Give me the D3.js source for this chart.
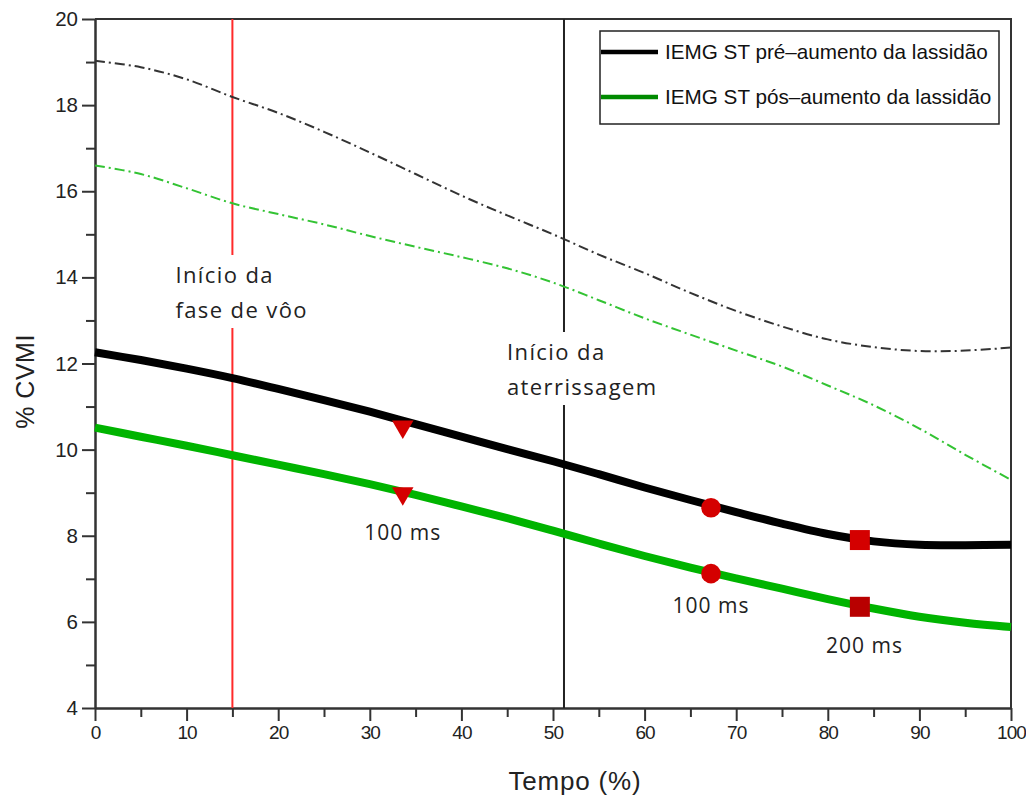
<!DOCTYPE html>
<html>
<head>
<meta charset="utf-8">
<script src="https://cdn.jsdelivr.net/npm/d3@7.9.0/dist/d3.min.js"></script>
<style>
  body { margin: 0; background: #fff; }
  svg { display: block; }
</style>
</head>
<body>
<script>
// ** Data **
const tempo = [0, 5, 10, 15, 20, 25, 30, 35, 40, 45, 50, 55, 60, 65, 70, 75, 80, 85, 90, 95, 100];
const preMean = [12.26, 12.08, 11.88, 11.66, 11.41, 11.15, 10.88, 10.59, 10.30, 10.01, 9.73, 9.43, 9.12, 8.83, 8.55, 8.28, 8.04, 7.87, 7.79, 7.78, 7.79];
const posMean = [10.51, 10.30, 10.09, 9.87, 9.65, 9.43, 9.20, 8.95, 8.68, 8.41, 8.12, 7.82, 7.53, 7.26, 7.01, 6.77, 6.53, 6.31, 6.12, 5.98, 5.88];
const preUpper = [19.03, 18.88, 18.60, 18.19, 17.82, 17.38, 16.90, 16.40, 15.90, 15.44, 15.00, 14.53, 14.10, 13.64, 13.22, 12.86, 12.56, 12.38, 12.29, 12.30, 12.37];
const posUpper = [16.60, 16.40, 16.07, 15.72, 15.47, 15.23, 14.96, 14.71, 14.47, 14.21, 13.88, 13.47, 13.05, 12.67, 12.30, 11.93, 11.49, 11.03, 10.49, 9.88, 9.30];

// markers (triangle, circle, square)
const markerX = [33.6, 67.25, 83.5];
const markerPre = [10.58, 8.65, 7.90];
const markerPos = [9.03, 7.12, 6.35];
const markerShape = ["triangle", "circle", "square"];

const xTicks = [0, 10, 20, 30, 40, 50, 60, 70, 80, 90, 100];
const xMinor = [5, 15, 25, 35, 45, 55, 65, 75, 85, 95];
const yTicks = [4, 6, 8, 10, 12, 14, 16, 18, 20];
const yMinor = [5, 7, 9, 11, 13, 15, 17, 19];

const phaseLines = [
    { x: 15, color: "#ff2a2a", lines: ["Início da", "fase de vôo"] },
    { x: 51.2, color: "#222", lines: ["Início da", "aterrissagem"] }
];
const msLabels = [
    { x: 33.6, y: 7.9, text: "100 ms" },
    { x: 67.25, y: 6.2, text: "100 ms" },
    { x: 84, y: 5.28, text: "200 ms" }
];
const legendItems = [
    { label: "IEMG ST pré–aumento da lassidão", color: "#000" },
    { label: "IEMG ST pós–aumento da lassidão", color: "#008a00" }
];

// ** SVG Setup **
const width = 1026, height = 798;
const margin = { top: 19, right: 15, bottom: 90, left: 95 };
const svg = d3.select("body").append("svg")
    .attr("width", width)
    .attr("height", height);

const x = d3.scaleLinear().domain([0, 100]).range([margin.left, width - margin.right]);
const y = d3.scaleLinear().domain([4, 20]).range([height - margin.bottom, margin.top]);

const tickFont = "'Liberation Sans', Arial, sans-serif";
const noteFont = "'Open Sans', 'Noto Sans', sans-serif";

// ** Axes **
function styleAxis(size, spacing) {
    return g => {
        g.selectAll("path, line").attr("stroke", "#333").attr("stroke-width", 2);
        g.selectAll("text")
            .style("font-family", tickFont)
            .style("font-size", size)
            .style("letter-spacing", spacing)
            .attr("fill", "#222");
    };
}

svg.append("g")
    .attr("transform", `translate(0,${y(4)})`)
    .call(d3.axisBottom(x).tickValues(xMinor).tickSize(9).tickFormat("").tickSizeOuter(0))
    .call(styleAxis("19px", "0px"));
svg.append("g")
    .attr("transform", `translate(0,${y(4)})`)
    .call(d3.axisBottom(x).tickValues(xTicks).tickSize(13).tickPadding(5).tickSizeOuter(0))
    .call(styleAxis("19px", "-0.9px"));

svg.append("g")
    .attr("transform", `translate(${x(0)},0)`)
    .call(d3.axisLeft(y).tickValues(yMinor).tickSize(9).tickFormat("").tickSizeOuter(0))
    .call(styleAxis("20px", "0px"));
svg.append("g")
    .attr("transform", `translate(${x(0)},0)`)
    .call(d3.axisLeft(y).tickValues(yTicks).tickSize(13).tickPadding(4).tickSizeOuter(0))
    .call(styleAxis("20.5px", "0px"));

// frame top + right
svg.append("path")
    .attr("d", `M${x(0)},${y(20)}H${x(100)}V${y(4)}`)
    .attr("fill", "none")
    .attr("stroke", "#333")
    .attr("stroke-width", 2);

// ** Phase lines **
phaseLines.forEach(p => {
    svg.append("line")
        .attr("x1", x(p.x)).attr("x2", x(p.x))
        .attr("y1", y(20)).attr("y2", y(4))
        .attr("stroke", p.color)
        .attr("stroke-width", 2);
});

// ** Curves **
const line = d3.line()
    .x((d, i) => x(tempo[i]))
    .y(d => y(d))
    .curve(d3.curveCatmullRom.alpha(0.5));

svg.append("path").datum(preUpper)
    .attr("d", line).attr("fill", "none")
    .attr("stroke", "#333").attr("stroke-width", 2)
    .attr("stroke-dasharray", "10,4,2,4");
svg.append("path").datum(posUpper)
    .attr("d", line).attr("fill", "none")
    .attr("stroke", "#33c333").attr("stroke-width", 2)
    .attr("stroke-dasharray", "10,4,2,4");
svg.append("path").datum(preMean)
    .attr("d", line).attr("fill", "none")
    .attr("stroke", "#000").attr("stroke-width", 8);
svg.append("path").datum(posMean)
    .attr("d", line).attr("fill", "none")
    .attr("stroke", "#00b400").attr("stroke-width", 8);

// ** Phase labels (white box hides line behind) **
phaseLines.forEach((p, k) => {
    const lx = x(p.x) - 57;
    const ly = k === 0 ? 283 : 360;
    const g = svg.append("g");
    const t = g.append("text")
        .attr("x", lx).attr("y", ly)
        .style("font-family", noteFont)
        .style("font-size", "22px")
        .style("letter-spacing", "1.4px")
        .attr("fill", "#222");
    t.selectAll("tspan").data(p.lines).enter().append("tspan")
        .attr("x", lx)
        .attr("dy", (d, i) => i === 0 ? 0 : 35)
        .text(d => d);
    const bb = t.node().getBBox();
    g.insert("rect", "text")
        .attr("x", bb.x - 2).attr("y", bb.y - 4)
        .attr("width", bb.width + 4).attr("height", bb.height + 8)
        .attr("fill", "#fff");
});

// ** Markers **
const symbolFor = s => s === "triangle" ? d3.symbolTriangle : s === "circle" ? d3.symbolCircle : d3.symbolSquare;
const sizeFor = s => s === "triangle" ? 200 : s === "circle" ? 300 : 400;
[markerPre, markerPos].forEach((ys, j) => {
    svg.selectAll(null)
        .data(markerX)
        .enter()
        .append("path")
        .attr("d", (d, i) => d3.symbol().type(symbolFor(markerShape[i])).size(sizeFor(markerShape[i]))())
        .attr("transform", (d, i) => {
            const rot = markerShape[i] === "triangle" ? " rotate(180)" : "";
            const dy = markerShape[i] === "triangle" ? 2 : 0;
            return `translate(${x(d)},${y(ys[i]) + dy})${rot}`;
        })
        .attr("fill", (d, i) => (j === 1 && markerShape[i] === "square") ? "#b80000" : "#d40000");
});

// ** ms labels **
svg.selectAll(".ms")
    .data(msLabels)
    .enter()
    .append("text")
    .attr("class", "ms")
    .attr("x", d => x(d.x))
    .attr("y", d => y(d.y))
    .attr("text-anchor", "middle")
    .style("font-family", noteFont)
    .style("font-size", "21px")
    .style("letter-spacing", "1px")
    .attr("fill", "#222")
    .text(d => d.text);

// ** Legend **
const legend = svg.append("g");
legend.append("rect")
    .attr("x", 600).attr("y", 31)
    .attr("width", 399).attr("height", 93)
    .attr("fill", "#fff")
    .attr("stroke", "#222")
    .attr("stroke-width", 1.5);
legendItems.forEach((d, i) => {
    const ly = 52 + i * 45;
    legend.append("line")
        .attr("x1", 601).attr("x2", 658)
        .attr("y1", ly).attr("y2", ly)
        .attr("stroke", d.color)
        .attr("stroke-width", 4.5);
    legend.append("text")
        .attr("x", 665).attr("y", ly + 7)
        .style("font-family", tickFont)
        .style("font-size", "20.7px")
        .attr("fill", "#111")
        .text(d.label);
});

// ** Axis titles **
svg.append("text")
    .attr("x", 575)
    .attr("y", 790)
    .attr("text-anchor", "middle")
    .style("font-family", tickFont)
    .style("font-size", "26px")
    .style("letter-spacing", "0.8px")
    .attr("fill", "#222")
    .text("Tempo (%)");

svg.append("text")
    .attr("transform", `translate(34,${(y(4) + y(20)) / 2 + 18}) rotate(-90)`)
    .attr("text-anchor", "middle")
    .style("font-family", tickFont)
    .style("font-size", "25px")
    .style("letter-spacing", "0.5px")
    .attr("fill", "#222")
    .text("% CVMI");
</script>
</body>
</html>
